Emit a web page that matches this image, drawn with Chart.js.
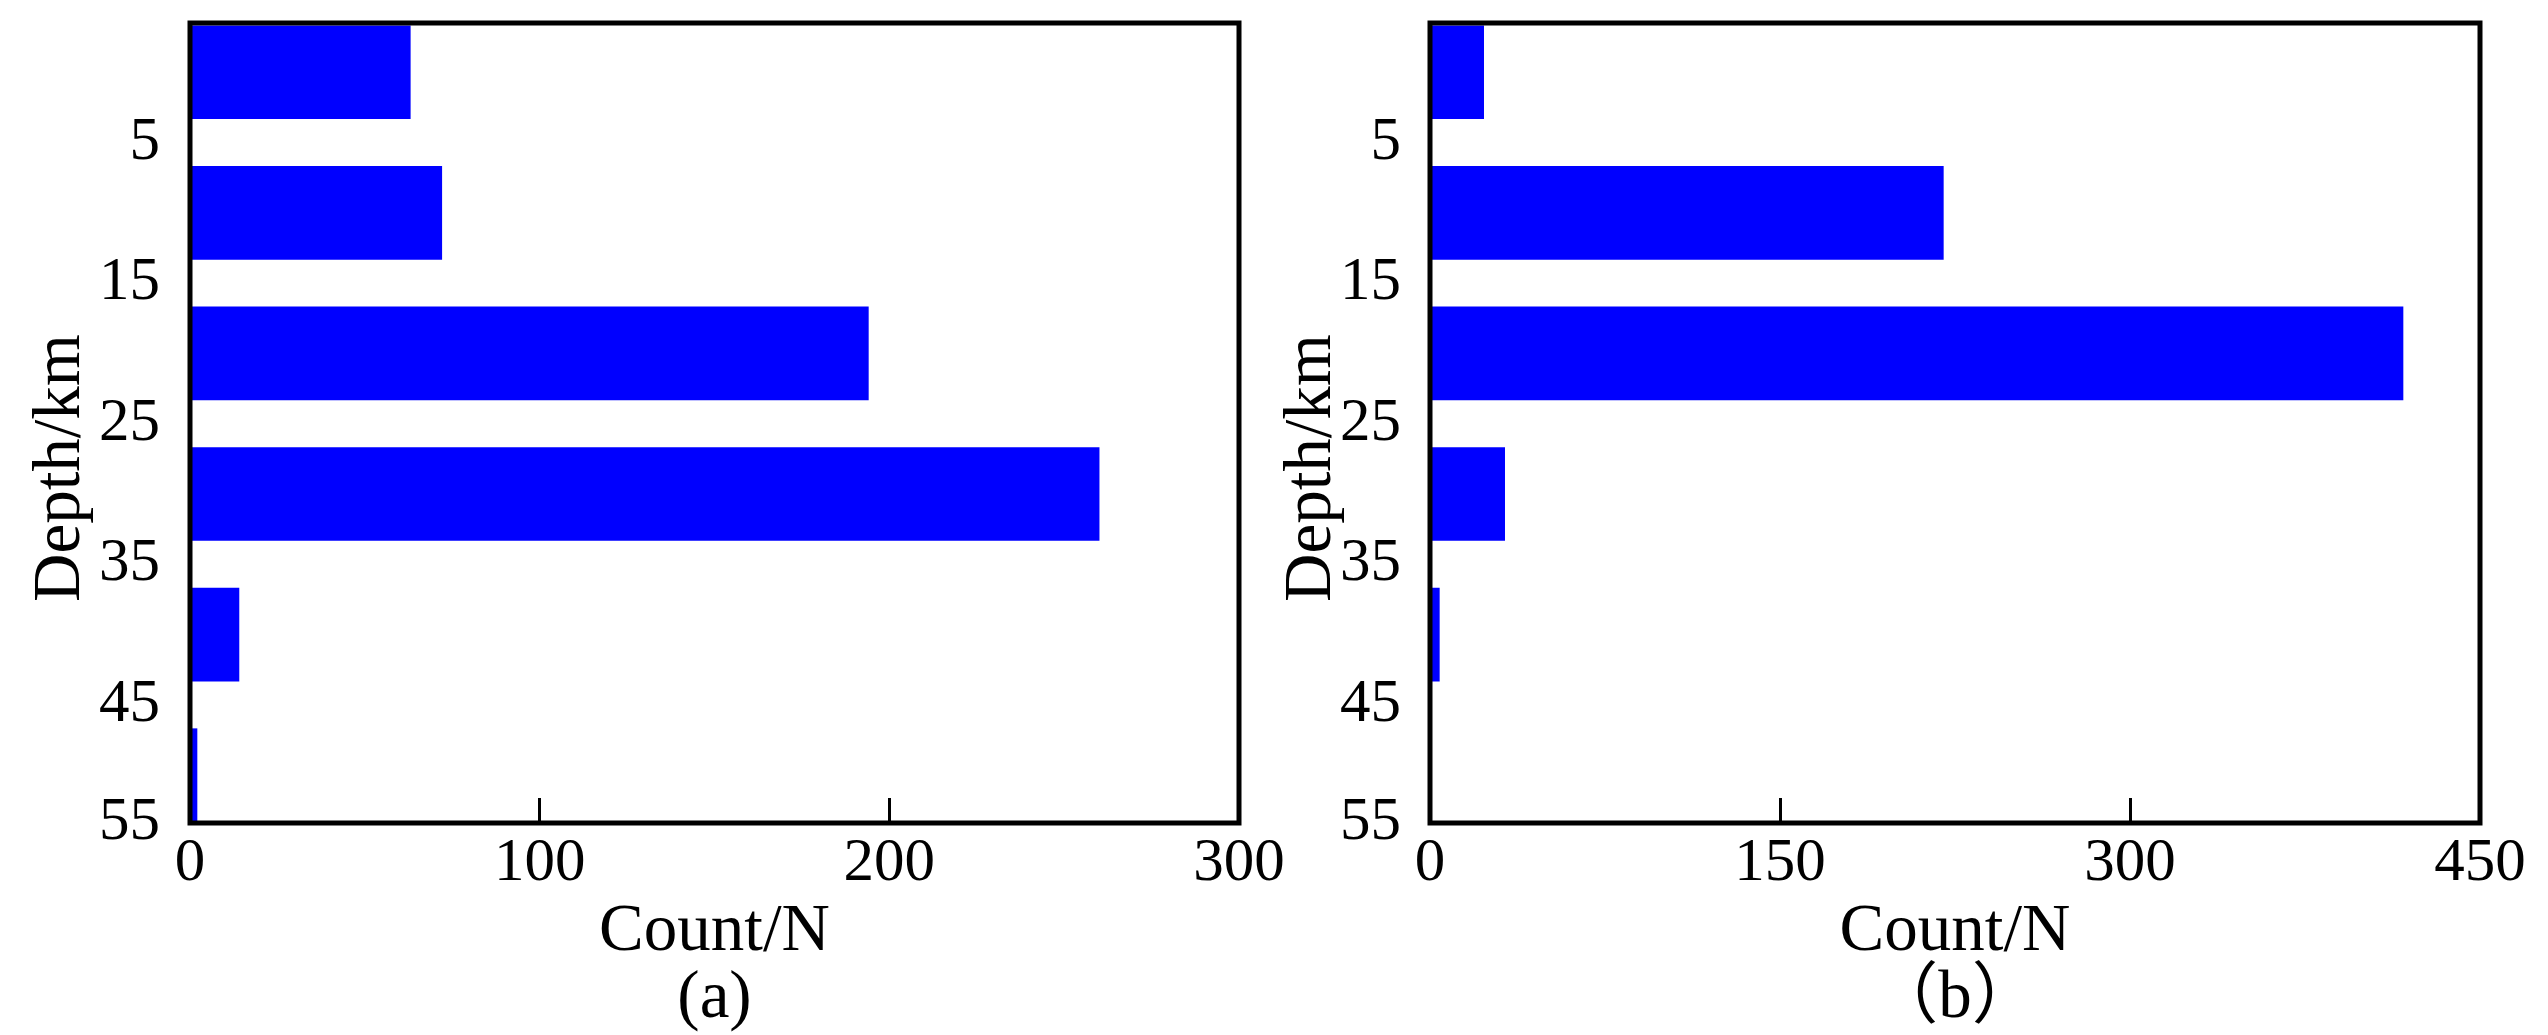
<!DOCTYPE html>
<html>
<head>
<meta charset="utf-8">
<script src="https://cdn.jsdelivr.net/npm/chart.js@4.4.1/dist/chart.umd.min.js"></script>
<style>
  html, body { margin: 0; padding: 0; background: #fff; }
  #wrap { position: relative; width: 2548px; height: 1035px; overflow: hidden; }
  .panel { position: absolute; top: 0; height: 1035px; }
  #panelA { left: 0; width: 1300px; }
  #panelB { left: 1280px; width: 1268px; }
</style>
</head>
<body>
<div id="wrap">
  <div class="panel" id="panelA"><canvas id="chartA"></canvas></div>
  <div class="panel" id="panelB"><canvas id="chartB"></canvas></div>
</div>
<script>
// Depth distribution histograms, panels (a) and (b)

const depthBins = [0, 10, 20, 30, 40, 50];
const depthTicks = [5, 15, 25, 35, 45, 55];
const countA = [63, 72, 194, 260, 14, 2];
const countB = [23, 220, 417, 32, 4, 0];
const countTicksA = { max: 300, step: 100 };
const countTicksB = { max: 450, step: 150 };
const depthRange = { min: -3.5, max: 53.4 };

const BAR_BLUE = '#0000ff';
const SERIF = "'Liberation Serif', 'Times New Roman', 'Noto Sans CJK SC', serif";
const FONT_TICK = { family: SERIF, size: 61 };
const FONT_TITLE = { family: SERIF, size: 67, lineHeight: 1.0 };

// black box around the plot area, drawn over the bars
const framePlugin = {
  id: 'frame',
  afterDatasetsDraw(chart) {
    const { ctx, chartArea: a } = chart;
    ctx.save();
    ctx.strokeStyle = '#000';
    ctx.lineWidth = 5;
    ctx.strokeRect(a.left, a.top, a.right - a.left, a.bottom - a.top);
    ctx.restore();
  },
};

// rotated y title, sits a bit below the middle of the axis in the original
const yTitlePlugin = {
  id: 'yTitle',
  afterDraw(chart, args, opts) {
    const { ctx, chartArea: a } = chart;
    ctx.save();
    ctx.translate(opts.x, (a.top + a.bottom) / 2 + opts.shift);
    ctx.rotate(-Math.PI / 2);
    ctx.font = `${FONT_TITLE.size}px ${SERIF}`;
    ctx.fillStyle = '#000';
    ctx.textAlign = 'center';
    ctx.textBaseline = 'middle';
    ctx.fillText(opts.text, 0, 0);
    ctx.restore();
  },
};

// chart.js adds half a label of padding round the plot; the layout here is fixed instead
function noAutoPadding(s) {
  s.paddingLeft = 0; s.paddingRight = 0; s.paddingTop = 0; s.paddingBottom = 0;
}

function renderDepthChart(canvasId, counts, xTicks, panelLabel, geom) {
  const ctx = document.getElementById(canvasId);
  return new Chart(ctx, {
    type: 'bar',
    data: {
      datasets: [{
        data: depthBins.map((d, i) => ({ x: counts[i], y: d })),
        backgroundColor: BAR_BLUE,
        borderWidth: 0,
        barThickness: 93,
      }],
    },
    options: {
      indexAxis: 'y',
      responsive: true,
      maintainAspectRatio: false,
      animation: false,
      layout: { padding: { left: 0, top: 23, right: geom.padRight, bottom: 0 } },
      plugins: {
        legend: { display: false },
        tooltip: { enabled: false },
        yTitle: { text: 'Depth/km', x: geom.yTitleX, shift: 45 },
      },
      scales: {
        x: {
          type: 'linear',
          position: 'bottom',
          min: 0,
          max: xTicks.max,
          ticks: { stepSize: xTicks.step, color: '#000', font: FONT_TICK, padding: 29, maxRotation: 0 },
          grid: { drawOnChartArea: false, tickLength: -25, tickWidth: 3, tickColor: '#000' },
          border: { display: false },
          title: { display: true, text: ['Count/N', panelLabel], color: '#000', font: FONT_TITLE, padding: { top: 0, bottom: 2 } },
          afterFit: s => { s.height = 212; noAutoPadding(s); },
        },
        y: {
          type: 'linear',
          position: 'left',
          reverse: true,
          offset: false,
          min: depthRange.min,
          max: depthRange.max,
          afterBuildTicks: s => { s.ticks = depthTicks.map(v => ({ value: Math.min(v, s.max) })); },
          ticks: { callback: (v, i) => depthTicks[i], color: '#000', font: FONT_TICK, padding: geom.yTickPad, autoSkip: false },
          grid: { display: false, offset: false },
          border: { display: false },
          afterFit: s => { s.width = geom.yWidth; noAutoPadding(s); },
        },
      },
    },
    plugins: [framePlugin, yTitlePlugin],
  });
}

renderDepthChart('chartA', countA, countTicksA, '(a)', { yWidth: 190, padRight: 61, yTickPad: 22, yTitleX: 61 });
renderDepthChart('chartB', countB, countTicksB, '（b）', { yWidth: 150, padRight: 68, yTickPad: 21, yTitleX: 32 });
</script>
</body>
</html>
